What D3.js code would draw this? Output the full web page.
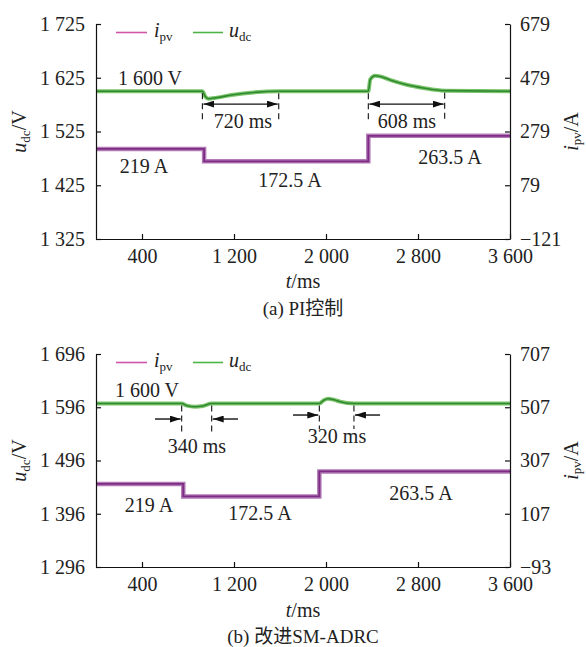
<!DOCTYPE html>
<html><head><meta charset="utf-8">
<script src="https://cdn.jsdelivr.net/npm/d3@7/dist/d3.min.js"></script>
<style>
body{margin:0;background:#fff;}
svg{display:block;}
text{font-family:"Liberation Serif","Times New Roman",Times,serif;}
text.cjk{font-family:"Liberation Serif","Noto Sans CJK SC",serif;}
</style></head>
<body><svg id="c" width="586" height="647"></svg>
<script>
// ---------- data ----------
const timeTicks = [400, 1200, 2000, 2800, 3600];
const udcTicksA = [1325, 1425, 1525, 1625, 1725];
const ipvTicksA = [-121, 79, 279, 479, 679];
const udcTicksB = [1296, 1396, 1496, 1596, 1696];
const ipvTicksB = [-93, 107, 307, 507, 707];

// panel (a) PI control
const udcA_t = [0, 925, 950, 977, 1050, 1194, 1367, 1589, 2368, 2385, 2426, 2480, 2557, 2701, 2846, 3032, 3600];
const udcA_v = [1600, 1600, 1590, 1586, 1588, 1593.4, 1597.7, 1600, 1600, 1622, 1628.7, 1627, 1621, 1612, 1606, 1601, 1600];
const ipvA_t = [0, 940, 2368, 3600];
const ipvA_v = [214, 168, 263, 263];

// panel (b) improved SM-ADRC
const udcB_t = [0, 745, 790, 860, 930, 1006, 1942, 1980, 2017, 2070, 2122, 2243, 3600];
const udcB_v = [1603, 1603, 1599, 1597, 1598.5, 1603, 1603, 1609, 1612, 1610, 1606.5, 1603, 1603];
const ipvB_t = [0, 759, 1942, 3600];
const ipvB_v = [219, 172, 266, 266];

// annotations: [t, value] in data units
const annA = {
  voltLabel: {t: 191, v: 1611.5, text: "1 600 V"},
  spans: [
    {t0: 925, t1: 1589, arrowV: 1576, text: "720 ms", labelT: 1278, labelV: 1531.5, style: "inner"},
    {t0: 2368, t1: 3032, arrowV: 1576, text: "608 ms", labelT: 2704, labelV: 1531.5, style: "inner"}
  ],
  curLabels: [
    {t: 417, a: 124.6, text: "219 A"},
    {t: 1687, a: 72.5, text: "172.5 A"},
    {t: 3078, a: 158, text: "263.5 A"}
  ]
};
const annB = {
  voltLabel: {t: 165, v: 1615.2, text: "1 600 V"},
  spans: [
    {t0: 745, t1: 1006, arrowV: 1573.9, text: "340 ms", labelT: 878, labelV: 1510, style: "outer", outL: 513, outR: 1235},
    {t0: 1942, t1: 2243, arrowV: 1581.4, text: "320 ms", labelT: 2096, labelV: 1528.9, style: "outer", outL: 1713, outR: 2470}
  ],
  curLabels: [
    {t: 461, a: 113.6, text: "219 A"},
    {t: 1426, a: 83.5, text: "172.5 A"},
    {t: 2826, a: 158.6, text: "263.5 A"}
  ]
};

// ---------- drawing ----------
const svg = d3.select("#c");
const defs = svg.append("defs");
defs.append("marker").attr("id","ah").attr("viewBox","0 0 11 7").attr("refX",11).attr("refY",3.5)
  .attr("markerWidth",11).attr("markerHeight",7).attr("markerUnits","userSpaceOnUse").attr("orient","auto-start-reverse")
  .append("path").attr("d","M0,0L11,3.5L0,7Z").attr("fill","#111");

const fmt = v => d3.format(",")(v).replace(/,/g, " ");
const X0 = 96, X1 = 510;

function panel(cfg) {
  const {top, bottom, udcTicks, ipvTicks, udcT, udcV, ipvT, ipvV, ann, caption, capY, tlY} = cfg;
  const g = svg.append("g");
  const x = d3.scaleLinear().domain([0, 3600]).range([X0, X1]);
  const yL = d3.scaleLinear().domain([udcTicks[0], udcTicks[4]]).range([bottom, top]);
  const yR = d3.scaleLinear().domain([ipvTicks[0], ipvTicks[4]]).range([bottom, top]);

  // traces
  const ipvData = ipvT.map((t,i)=>[t, ipvV[i]]);
  const udcData = udcT.map((t,i)=>[t, udcV[i]]);
  const lineI = d3.line().x(d=>x(d[0])).y(d=>yR(d[1])).curve(d3.curveStepAfter);
  const lineU = d3.line().x(d=>x(d[0])).y(d=>yL(d[1])).curve(d3.curveMonotoneX);
  g.append("path").attr("d", lineI(ipvData)).attr("fill","none").attr("stroke","#b27ab6").attr("stroke-width",4.5);
  g.append("path").attr("d", lineI(ipvData)).attr("fill","none").attr("stroke","#7e2c84").attr("stroke-width",1.8);
  g.append("path").attr("d", lineU(udcData)).attr("fill","none").attr("stroke","#7cc46c").attr("stroke-width",4);
  g.append("path").attr("d", lineU(udcData)).attr("fill","none").attr("stroke","#2f8a2f").attr("stroke-width",1.6);

  // axes
  const axB = d3.axisBottom(x).tickValues(timeTicks).tickSizeInner(-5).tickSizeOuter(0).tickPadding(10).tickFormat(fmt);
  const axL = d3.axisLeft(yL).tickValues(udcTicks).tickSizeInner(-5).tickSizeOuter(0).tickPadding(11).tickFormat(fmt);
  const axR = d3.axisRight(yR).tickValues(ipvTicks).tickSizeInner(-5).tickSizeOuter(0).tickPadding(10).tickFormat(fmt);
  [[axB, `translate(0,${bottom})`], [axL, `translate(${X0},0)`], [axR, `translate(${X1},0)`]].forEach(([ax, tr]) => {
    const a = g.append("g").attr("transform", tr).call(ax);
    a.selectAll("path,line").attr("stroke","#111").attr("stroke-width",1.2);
    a.selectAll("text").attr("font-size",20).attr("fill","#222");
  });

  // legend
  const ly = top + 8.5;
  g.append("line").attr("x1",116).attr("x2",147).attr("y1",ly).attr("y2",ly).attr("stroke","#d055a8").attr("stroke-width",1.6);
  g.append("line").attr("x1",193).attr("x2",223).attr("y1",ly).attr("y2",ly).attr("stroke","#4cb444").attr("stroke-width",1.6);
  const lt1 = g.append("text").attr("x",154).attr("y",top+13).attr("font-size",20).attr("fill","#222");
  lt1.append("tspan").attr("font-style","italic").text("i");
  lt1.append("tspan").attr("font-size",13).attr("dy",4).text("pv");
  const lt2 = g.append("text").attr("x",229).attr("y",top+13).attr("font-size",20).attr("fill","#222");
  lt2.append("tspan").attr("font-style","italic").text("u");
  lt2.append("tspan").attr("font-size",13).attr("dy",4).text("dc");

  // axis titles
  const mid = (top + bottom) / 2;
  const yt = g.append("text").attr("transform",`translate(26,${mid}) rotate(-90)`).attr("text-anchor","middle").attr("font-size",20).attr("fill","#222");
  yt.append("tspan").attr("font-style","italic").text("u");
  yt.append("tspan").attr("font-size",13).attr("dy",4).text("dc");
  yt.append("tspan").attr("dy",-4).text("/V");
  const yr = g.append("text").attr("transform",`translate(578,${mid}) rotate(-90)`).attr("text-anchor","middle").attr("font-size",20).attr("fill","#222");
  yr.append("tspan").attr("font-style","italic").text("i");
  yr.append("tspan").attr("font-size",13).attr("dy",3).text("pv");
  yr.append("tspan").attr("dy",-3).text("/A");
  const xt = g.append("text").attr("x",(X0+X1)/2).attr("y",tlY).attr("text-anchor","middle").attr("font-size",20).attr("fill","#222");
  xt.append("tspan").attr("font-style","italic").text("t");
  xt.append("tspan").text("/ms");
  g.append("text").attr("class","cjk").attr("x",(X0+X1)/2).attr("y",capY).attr("text-anchor","middle").attr("font-size",19).attr("fill","#222").text(caption);

  // annotations
  g.append("text").attr("x",x(ann.voltLabel.t)).attr("y",yL(ann.voltLabel.v)).attr("font-size",20).attr("fill","#222").text(ann.voltLabel.text);
  ann.curLabels.forEach(c => g.append("text").attr("x",x(c.t)).attr("y",yR(c.a)).attr("text-anchor","middle").attr("font-size",20).attr("fill","#222").text(c.text));
  const udcAt = t => yL(udcV[d3.bisectRight(udcT, t)-1]);
  ann.spans.forEach(s => {
    const ay = yL(s.arrowV);
    [s.t0, s.t1].forEach(t => {
      g.append("line").attr("x1",x(t)).attr("x2",x(t)).attr("y1",udcAt(t)+2).attr("y2",ay+(s.style==="inner"?16:14))
        .attr("stroke","#111").attr("stroke-width",1.1).attr("stroke-dasharray","6,4");
    });
    if (s.style === "inner") {
      g.append("line").attr("x1",x(s.t0)+1).attr("x2",x(s.t1)-1).attr("y1",ay).attr("y2",ay)
        .attr("stroke","#111").attr("stroke-width",1.4).attr("marker-start","url(#ah)").attr("marker-end","url(#ah)");
    } else {
      g.append("line").attr("x1",x(s.outL)).attr("x2",x(s.t0)-1).attr("y1",ay).attr("y2",ay)
        .attr("stroke","#111").attr("stroke-width",1.4).attr("marker-end","url(#ah)");
      g.append("line").attr("x1",x(s.outR)).attr("x2",x(s.t1)+1).attr("y1",ay).attr("y2",ay)
        .attr("stroke","#111").attr("stroke-width",1.4).attr("marker-end","url(#ah)");
    }
    g.append("text").attr("x",x(s.labelT)).attr("y",yL(s.labelV)).attr("text-anchor","middle").attr("font-size",20).attr("fill","#222").text(s.text);
  });
}

panel({top:24, bottom:239, udcTicks:udcTicksA, ipvTicks:ipvTicksA, udcT:udcA_t, udcV:udcA_v, ipvT:ipvA_t, ipvV:ipvA_v,
  ann:annA, caption:"(a) PI控制", tlY:288, capY:315});
panel({top:354, bottom:567, udcTicks:udcTicksB, ipvTicks:ipvTicksB, udcT:udcB_t, udcV:udcB_v, ipvT:ipvB_t, ipvV:ipvB_v,
  ann:annB, caption:"(b) 改进SM-ADRC", tlY:617, capY:643});
</script></body></html>
